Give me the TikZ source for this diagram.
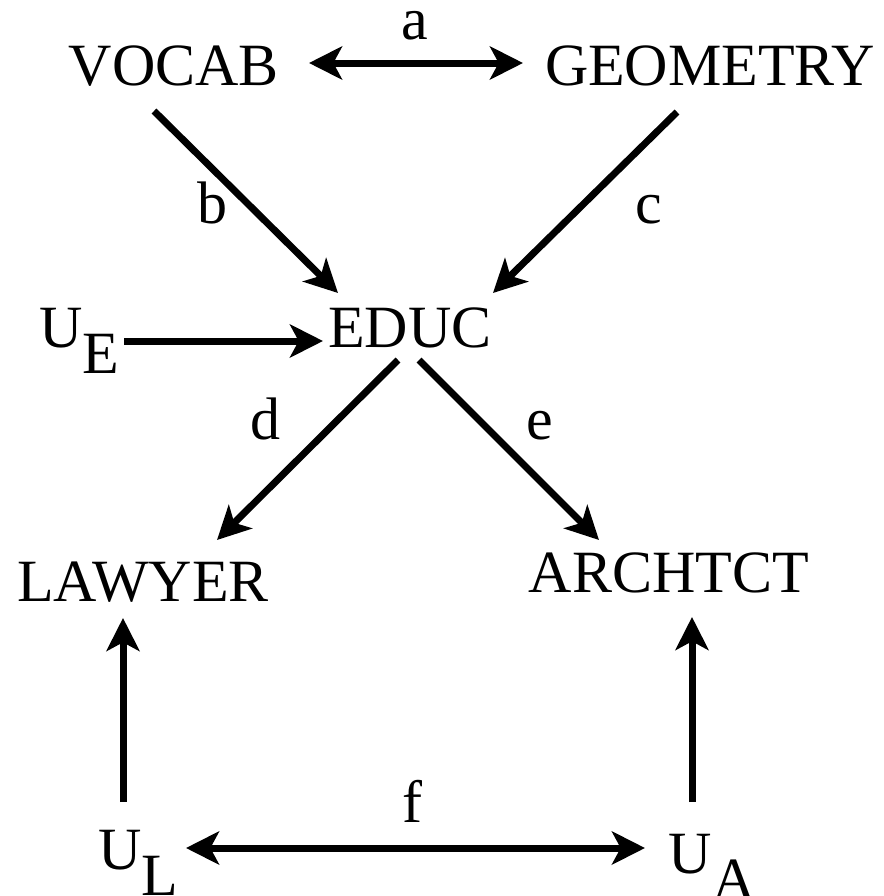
\documentclass[tikz,border=0pt]{standalone}
\usepackage{fontspec}
\setmainfont{Liberation Serif}
\usetikzlibrary{arrows.meta}
\tikzset{
  lbl/.style={anchor=base, inner sep=0pt, outer sep=0pt, font=\fontsize{45}{54}\selectfont},
  arr/.style={line width=5.25pt, -{Stealth[length=24.75pt, width=24.75pt, inset=6.5pt]}},
  darr/.style={line width=5.25pt, {Stealth[length=24.75pt, width=24.75pt, inset=6.5pt]}-{Stealth[length=24.75pt, width=24.75pt, inset=6.5pt]}}
}
\newcommand{\subsc}[1]{\raisebox{-19.5pt}{#1}}
\begin{document}
\begin{tikzpicture}[x=0.75pt, y=-0.75pt]
\useasboundingbox (0,0) rectangle (884,896);
% nodes
\node[lbl] (vocab) at (174,85) {VOCAB};
\node[lbl] (geom) at (710,85) {GEOMETRY};
\node[lbl] (educ) at (410,347) {EDUC};
\node[lbl] (ue) at (79,347) {U\subsc{E}};
\node[lbl] (lawyer) at (143,601) {LAWYER};
\node[lbl] (archtct) at (669,592) {ARCHTCT};
\node[lbl] (ul) at (138,869) {U\subsc{L}};
\node[lbl] (ua) at (712,873) {U\subsc{A}};
% edge labels
\node[lbl] (la) at (415,39) {a};
\node[lbl] (lb) at (212,223) {b};
\node[lbl] (lc) at (649,223) {c};
\node[lbl] (ld) at (265,439) {d};
\node[lbl] (le) at (540,439) {e};
\node[lbl] (lf) at (412,822) {f};
% connector end points
\coordinate (a1) at (309,63);  \coordinate (a2) at (523,63);
\coordinate (b1) at (154,111); \coordinate (b2) at (338,293);
\coordinate (c1) at (677,112); \coordinate (c2) at (493,293);
\coordinate (e1) at (124,341); \coordinate (e2) at (323,341);
\coordinate (d1) at (398,360); \coordinate (d2) at (217,540);
\coordinate (f1) at (419,360); \coordinate (f2) at (599,540);
\coordinate (l1) at (123,802); \coordinate (l2) at (123,618);
\coordinate (r1) at (692,802); \coordinate (r2) at (692,617);
\coordinate (u1) at (186,848); \coordinate (u2) at (645,848);
% connectors
\draw[darr] (a1) -- (a2);
\draw[arr] (b1) -- (b2);
\draw[arr] (c1) -- (c2);
\draw[arr] (e1) -- (e2);
\draw[arr] (d1) -- (d2);
\draw[arr] (f1) -- (f2);
\draw[arr] (l1) -- (l2);
\draw[arr] (r1) -- (r2);
\draw[darr] (u1) -- (u2);
\end{tikzpicture}
\end{document}
